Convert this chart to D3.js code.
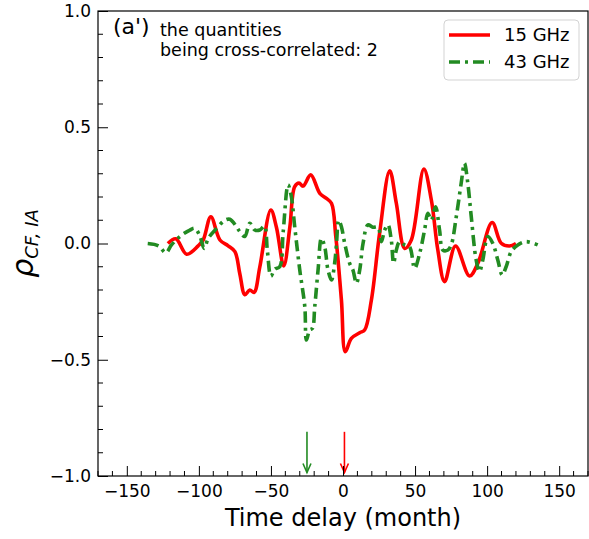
<!DOCTYPE html>
<html><head><meta charset="utf-8">
<script src="https://cdn.jsdelivr.net/npm/d3@7"></script>
<style>body{margin:0;background:#fff}svg{display:block}text{font-family:"DejaVu Sans",sans-serif}</style>
</head><body><div id="chart"></div>
<script>
// ---- data ----
const lag15 = [-121.5,-116,-108.5,-100.5,-97,-91.7,-85.4,-79.7,-75,-71.6,-68.1,-64.7,-61.7,-57.7,-50.1,-46.2,-41.1,-36.9,-33.5,-30.5,-27.7,-22.4,-16.1,-11.5,-8,-5,-1.1,1.6,5.8,11.6,15,19.7,25.4,32.4,37,42.8,47.4,56.1,61.3,65.8,70.5,78.1,87.8,93.6,103.5,109.8,115.5,120];
const rho15 = [0.0,0.02,-0.046,-0.01,0.015,0.115,0.015,-0.01,-0.035,-0.13,-0.22,-0.2,-0.21,-0.1,0.144,0.07,-0.097,0.07,0.245,0.26,0.247,0.295,0.216,0.194,0.173,0.03,-0.243,-0.465,-0.408,-0.384,-0.372,-0.243,0.044,0.313,0.173,-0.021,0.015,0.32,0.187,-0.028,-0.164,-0.011,-0.14,-0.085,0.09,0.001,-0.011,0.0];
const lag43 = [-135.5,-128,-122.9,-119,-113.2,-106.2,-102.8,-99.3,-96.3,-93.5,-87.7,-82,-78.5,-73.9,-71.6,-68.1,-64.7,-61.2,-57.7,-54.5,-52.5,-50,-47.3,-43.9,-41.5,-38.1,-35.8,-33.5,-30,-26.5,-25.4,-23.1,-21.2,-19.6,-17.3,-15,-12.7,-10.4,-8,-5.8,-4.5,-3,-1.1,1.2,4.6,6.9,9.3,11.6,13.9,17.3,20.8,24.3,26.6,28.9,31.2,33.5,35.1,37,39.3,42.8,46.2,49.7,53.2,56.6,58.9,61.3,64.2,67,69.3,72.8,75.1,78.6,82,84.3,86.6,89,92.4,94.7,97,100.5,104,107.4,110.5,113.2,116.7,121.3,127.1,135.1];
const rho43 = [0,-0.01,-0.04,-0.006,0.03,0.058,0.065,0.032,-0.021,0.022,0.065,0.1,0.104,0.072,0.051,0.03,0.087,0.058,0.058,0.075,-0.03,-0.14,-0.11,-0.1,0.05,0.252,0.2,0.072,-0.114,-0.272,-0.415,-0.372,-0.365,-0.272,-0.114,0.022,-0.014,-0.114,-0.157,-0.085,0.0,0.1,0.072,0.0,-0.085,-0.114,-0.171,-0.114,0.0,0.08,0.07,0.07,0.008,0.058,0.08,0.015,-0.085,-0.028,0.008,-0.006,-0.014,-0.107,-0.042,0.058,0.13,0.1,0.158,0.058,-0.028,-0.028,-0.006,0.115,0.259,0.345,0.259,0.115,-0.071,-0.121,-0.071,0.03,0.0,-0.071,-0.135,-0.1,-0.035,-0.006,0.008,-0.006];
const seriesNames = ["15 GHz","43 GHz"];
const seriesColors = ["#ff0000","#228b22"];
const xTicks = [-150,-100,-50,0,50,100,150];
const yTicks = [-1.0,-0.5,0.0,0.5,1.0];
const arrowLags = [-25,1];
const arrowFrom = -0.81, arrowTo = -0.985;
const annot = ["(a')","the quantities","being cross-correlated: 2"];

// ---- layout ----
const W=589,H=539;
const M={l:98,r:1,t:11,b:63};
const svg=d3.select("#chart").append("svg").attr("width",W).attr("height",H);
const x=d3.scaleLinear().domain([-170,170]).range([M.l,W-M.r]);
const y=d3.scaleLinear().domain([-1,1]).range([H-M.b,M.t]);
const fmtMinus = s => s.replace("-","\u2212");

// plot lines
svg.append("clipPath").attr("id","c").append("rect")
  .attr("x",M.l).attr("y",M.t).attr("width",x.range()[1]-M.l).attr("height",y.range()[0]-M.t);
const line=d3.line().x(d=>x(d[0])).y(d=>y(d[1])).curve(d3.curveCatmullRom.alpha(0.5));
const g=svg.append("g").attr("clip-path","url(#c)");
g.append("path").datum(d3.zip(lag15,rho15)).attr("d",line).attr("fill","none")
  .attr("stroke",seriesColors[0]).attr("stroke-width",3.6).attr("stroke-linejoin","round");
g.append("path").datum(d3.zip(lag43,rho43)).attr("d",line).attr("fill","none")
  .attr("stroke",seriesColors[1]).attr("stroke-width",3.6).attr("stroke-dasharray","11,5,3,5");

// arrows
arrowLags.forEach((a,i)=>{
  const col = i===0?seriesColors[1]:seriesColors[0];
  const ax=x(a), y0=y(arrowFrom), y1=y(arrowTo);
  svg.append("line").attr("x1",ax).attr("x2",ax).attr("y1",y0).attr("y2",y1)
    .attr("stroke",col).attr("stroke-width",1.6);
  svg.append("path").attr("d",`M${ax-4},${y1-9}L${ax},${y1}L${ax+4},${y1-9}`)
    .attr("fill","none").attr("stroke",col).attr("stroke-width",1.6);
});

// axes
const xAxis=d3.axisBottom(x).tickValues(xTicks).tickSize(-10).tickPadding(12).tickFormat(d=>fmtMinus(d3.format("d")(d)));
const gx=svg.append("g").attr("transform",`translate(0,${y.range()[0]})`).call(xAxis);
const yAxis=d3.axisLeft(y).tickValues(yTicks).tickSize(-10).tickPadding(7).tickFormat(d=>fmtMinus(d3.format(".1f")(d)));
const gy=svg.append("g").attr("transform",`translate(${M.l},0)`).call(yAxis);
[gx,gy].forEach(gg=>{gg.select(".domain").remove();gg.selectAll("text").attr("font-size",17).attr("fill","#000").attr("font-family","DejaVu Sans");gg.selectAll("line").attr("stroke","#000").attr("stroke-width",1);});
gx.selectAll("text").attr("dy","0.71em").attr("y",9);
// minor ticks
const xMinor=d3.range(-170,171,10).filter(v=>v%50!==0);
svg.append("g").selectAll("line").data(xMinor).join("line")
  .attr("x1",d=>x(d)).attr("x2",d=>x(d)).attr("y1",y.range()[0]).attr("y2",y.range()[0]-5).attr("stroke","#000");
const yMinor=d3.range(-10,11).map(v=>v/10).filter(v=>Math.abs(v*2-Math.round(v*2))>1e-6);
svg.append("g").selectAll("line").data(yMinor).join("line")
  .attr("x1",M.l).attr("x2",M.l+5).attr("y1",d=>y(d)).attr("y2",d=>y(d)).attr("stroke","#000");
// frame
svg.append("rect").attr("x",M.l).attr("y",M.t).attr("width",x.range()[1]-M.l).attr("height",y.range()[0]-M.t)
  .attr("fill","none").attr("stroke","#000").attr("stroke-width",1.2);

// labels
svg.append("text").attr("x",(M.l+x.range()[1])/2).attr("y",526).attr("text-anchor","middle")
  .attr("font-size",24).text("Time delay (month)");
const yl=svg.append("text").attr("transform",`translate(33,${y(0)}) rotate(-90)`).attr("text-anchor","middle");
yl.append("tspan").attr("font-size",30).attr("font-style","italic").text("ρ");
yl.append("tspan").attr("font-size",18).attr("font-style","italic").attr("dy",5).text("CF, IA");

// annotation
svg.append("text").attr("x",113).attr("y",34).attr("font-size",22).text(annot[0]);
svg.append("text").attr("x",160).attr("y",36).attr("font-size",17.5).text(annot[1]);
svg.append("text").attr("x",160).attr("y",56).attr("font-size",17.5).text(annot[2]);

// legend
const lg=svg.append("g");
lg.append("rect").attr("x",444).attr("y",20).attr("width",135).attr("height",60).attr("rx",4)
  .attr("fill","#fff").attr("stroke","#d3d3d3").attr("stroke-width",1);
seriesNames.forEach((n,i)=>{
  const yy=35+27*i;
  lg.append("line").attr("x1",449).attr("x2",490).attr("y1",yy).attr("y2",yy)
    .attr("stroke",seriesColors[i]).attr("stroke-width",3.6)
    .attr("stroke-dasharray",i===1?"11,5,3,5":null);
  lg.append("text").attr("x",504).attr("y",yy).attr("dy","0.35em").attr("font-size",18).text(n);
});
</script></body></html>
